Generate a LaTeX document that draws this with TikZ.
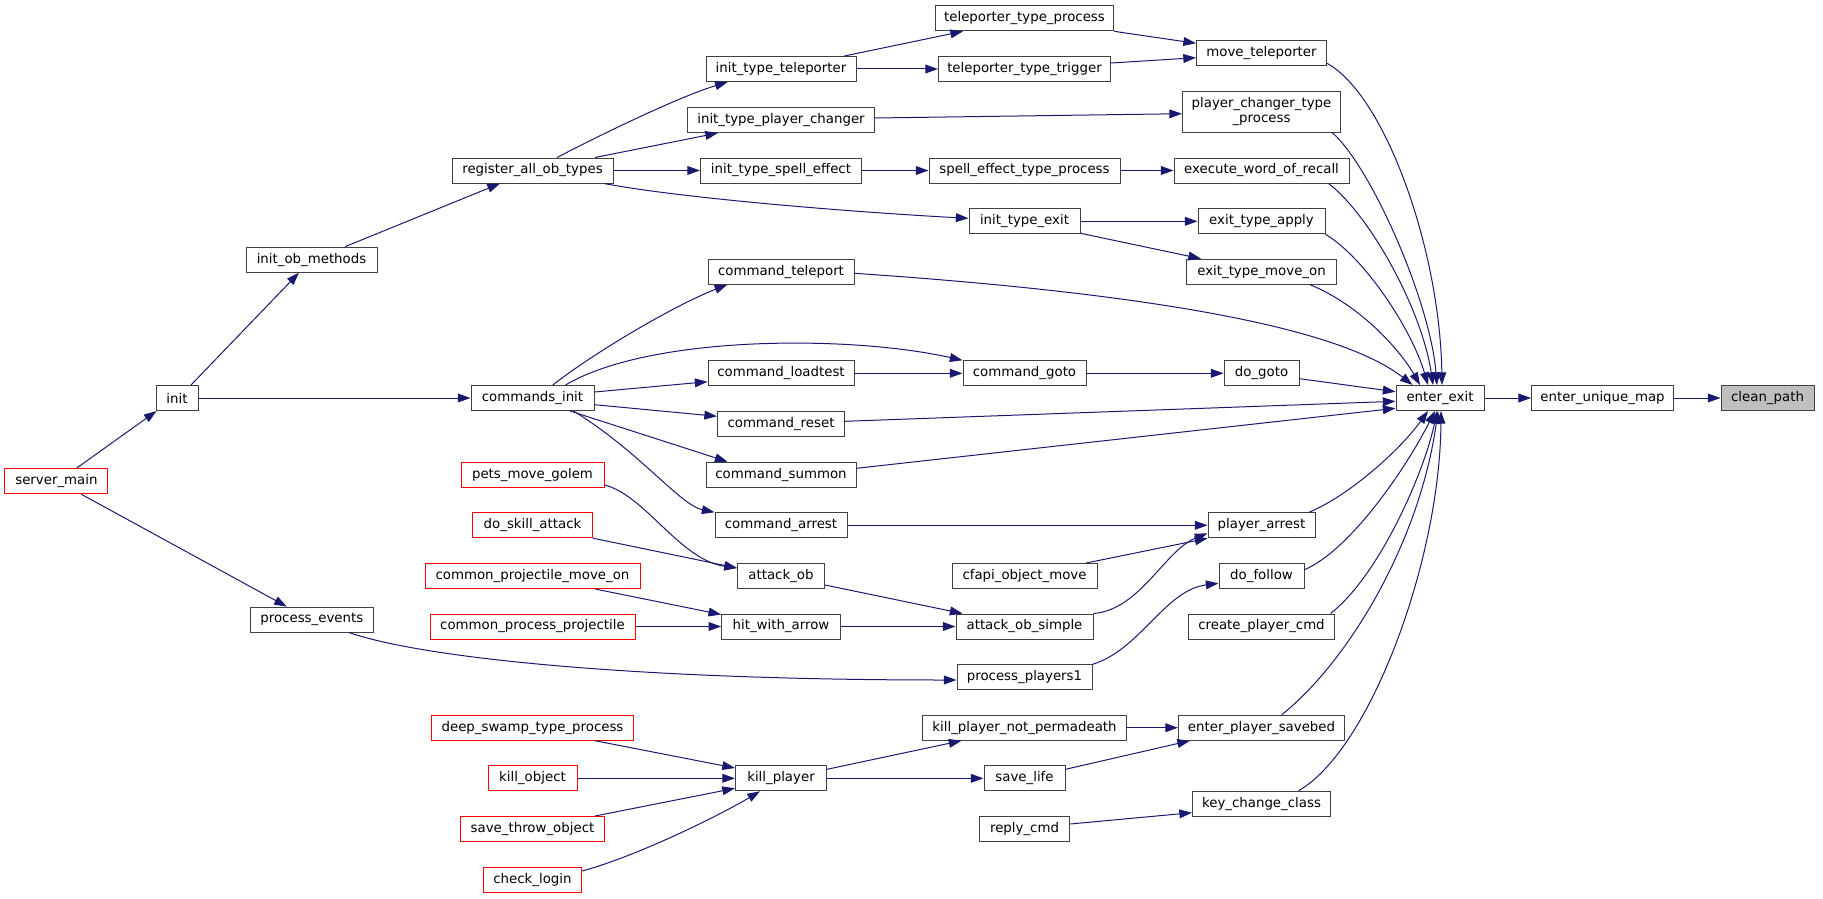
\documentclass[tikz,border=0pt]{standalone}
\usepackage{fontspec}
\setmainfont{DejaVu Sans}
\usetikzlibrary{arrows.meta,calc}
\definecolor{edgeblue}{HTML}{191970}
\definecolor{boxgray}{HTML}{404040}
\definecolor{hilite}{HTML}{BFBFBF}
\begin{document}
\begin{tikzpicture}[x=0.75pt,y=-0.75pt,
  fn/.style={draw=boxgray, line width=0.75pt, fill=white, rectangle, inner xsep=0pt, inner ysep=0pt, minimum height=18.75pt, font=\fontsize{10}{11.25}\selectfont},
  rn/.style={fn, draw=red},
  cedge/.style={draw=edgeblue, line width=0.75pt, -{Triangle[length=9.5pt,width=6.6pt]}}]
\useasboundingbox (0,0) rectangle (1823,899);

% column 0-2
\node[rn, minimum width=77.25pt] (sm) at (56.4,481.3) {server\_main};
\node[fn, minimum width=31.5pt] (init) at (177,398) {init};
\node[fn, minimum width=98.25pt] (iom) at (311.5,259.7) {init\_ob\_methods};
\node[fn, minimum width=92.25pt] (pe) at (311.8,619.6) {process\_events};
% column 3
\node[fn, minimum width=120.75pt] (rat) at (532.5,170.5) {register\_all\_ob\_types};
\node[fn, minimum width=92.25pt] (ci) at (532.5,398) {commands\_init};
\node[rn, minimum width=107.25pt] (pmg) at (532.5,474.7) {pets\_move\_golem};
\node[rn, minimum width=90pt] (dsa) at (532.5,525.2) {do\_skill\_attack};
\node[rn, minimum width=161.25pt] (cpmo) at (532.5,576) {common\_projectile\_move\_on};
\node[rn, minimum width=153.75pt] (cpp) at (532.5,626.5) {common\_process\_projectile};
\node[rn, minimum width=151.5pt] (dstp) at (532.5,727.7) {deep\_swamp\_type\_process};
\node[rn, minimum width=66.75pt] (ko) at (532.5,778.3) {kill\_object};
\node[rn, minimum width=108pt] (sto) at (532.5,829) {save\_throw\_object};
\node[rn, minimum width=73.9pt] (cl) at (532.5,879.7) {check\_login};
% column 4
\node[fn, minimum width=112.5pt] (itt) at (781,69) {init\_type\_teleporter};
\node[fn, minimum width=140.25pt] (itpc) at (781,120) {init\_type\_player\_changer};
\node[fn, minimum width=120.75pt] (itse) at (781,170.5) {init\_type\_spell\_effect};
\node[fn, minimum width=109.5pt] (ctel) at (781,271.7) {command\_teleport};
\node[fn, minimum width=109.5pt] (clt) at (781,373.3) {command\_loadtest};
\node[fn, minimum width=95.25pt] (cres) at (781,423.7) {command\_reset};
\node[fn, minimum width=112.5pt] (csum) at (781,474.7) {command\_summon};
\node[fn, minimum width=99pt] (carr) at (781,525.3) {command\_arrest};
\node[fn, minimum width=65.25pt] (aob) at (781,576) {attack\_ob};
\node[fn, minimum width=89pt] (hwa) at (781,626.5) {hit\_with\_arrow};
\node[fn, minimum width=68.25pt] (kp) at (781,778.3) {kill\_player};
% column 5
\node[fn, minimum width=133.5pt] (ttp) at (1024.5,18.3) {teleporter\_type\_process};
\node[fn, minimum width=129pt] (ttt) at (1024.5,69) {teleporter\_type\_trigger};
\node[fn, minimum width=143.25pt] (setp) at (1024.5,170.5) {spell\_effect\_type\_process};
\node[fn, minimum width=83.25pt] (ite) at (1024.5,221.3) {init\_type\_exit};
\node[fn, minimum width=92.25pt] (cgoto) at (1024.5,373.3) {command\_goto};
\node[fn, minimum width=108.75pt] (cfapi) at (1024.5,576) {cfapi\_object\_move};
\node[fn, minimum width=102.75pt] (aos) at (1024.5,626.5) {attack\_ob\_simple};
\node[fn, minimum width=101.25pt] (pp1) at (1024.5,677.3) {process\_players1};
\node[fn, minimum width=153pt] (kpnp) at (1024.5,727.7) {kill\_player\_not\_permadeath};
\node[fn, minimum width=60.75pt] (sl) at (1024.5,778.3) {save\_life};
\node[fn, minimum width=67.9pt] (rc) at (1024.5,829.3) {reply\_cmd};
% column 6
\node[fn, minimum width=97.5pt] (mt) at (1261.5,53.3) {move\_teleporter};
\node[fn, minimum width=118.5pt, minimum height=30pt, align=center] (pctp) at (1261.5,112) {player\_changer\_type\\\_process};
\node[fn, minimum width=131.25pt] (ewr) at (1261.5,170.5) {execute\_word\_of\_recall};
\node[fn, minimum width=95.25pt] (eta) at (1261.5,221.3) {exit\_type\_apply};
\node[fn, minimum width=112.5pt] (etmo) at (1261.5,271.7) {exit\_type\_move\_on};
\node[fn, minimum width=56.25pt] (dg) at (1261.5,373.3) {do\_goto};
\node[fn, minimum width=80.25pt] (pa) at (1261.5,525.3) {player\_arrest};
\node[fn, minimum width=63.75pt] (df) at (1261.5,576) {do\_follow};
\node[fn, minimum width=109.5pt] (cpc) at (1261.5,626.5) {create\_player\_cmd};
\node[fn, minimum width=124.5pt] (epsb) at (1261.5,727.7) {enter\_player\_savebed};
\node[fn, minimum width=103.5pt] (kcc) at (1261.5,803.7) {key\_change\_class};
% right
\node[fn, minimum width=66pt] (ee) at (1440,398) {enter\_exit};
\node[fn, minimum width=106.5pt] (eum) at (1602.5,398) {enter\_unique\_map};
\node[fn, minimum width=69.75pt, fill=hilite] (cp) at (1767.5,398) {clean\_path};

% edges
\draw[cedge] ($(sm.north)+(20,0)$) -- ($(init.south west)+(1,0)$);
\draw[cedge] ($(sm.south)+(25,0)$) -- ($(pe.north)+(-25,0)$);
\draw[cedge] ($(init.north)+(14,0)$) -- ($(iom.south)+(-12.5,0)$);
\draw[cedge] (init.east) -- (ci.west);
\draw[cedge] ($(iom.north)+(33.5,0)$) -- ($(rat.south)+(-32.5,0)$);
\draw[cedge] ($(rat.north)+(24.5,0)$) .. controls (600,135) and (679,96.7) .. ($(itt.south)+(-53.3,0)$);
\draw[cedge] ($(rat.north)+(62.5,0)$) -- ($(itpc.south)+(-63,0)$);
\draw[cedge] (rat.east) -- (itse.west);
\draw[cedge] ($(rat.south)+(71.5,0)$) .. controls (680,198) and (850,212) .. ($(ite.west)+(0,-3)$);
\draw[cedge] ($(itt.north)+(63.4,0)$) -- ($(ttp.south)+(-61.5,0)$);
\draw[cedge] (itt.east) -- (ttt.west);
\draw[cedge] (ttp.south east) -- ($(mt.west)+(0,-10)$);
\draw[cedge] ($(ttt.east)+(0,-6)$) -- ($(mt.west)+(0,4.4)$);
\draw[cedge] ($(itpc.east)+(0,-2)$) -- ($(pctp.west)+(0,1.7)$);
\draw[cedge] (itse.east) -- (setp.west);
\draw[cedge] (setp.east) -- (ewr.west);
\draw[cedge] (ite.east) -- (eta.west);
\draw[cedge] ($(ite.south east)+(0,-1)$) -- ($(etmo.north west)+(15,0)$);
\draw[cedge] ($(mt.east)+(0,10)$) .. controls (1385,95) and (1440,250) .. ($(ee.north)+(2,0)$);
\draw[cedge] ($(pctp.south east)+(-9,0)$) .. controls (1370,165) and (1430,300) .. ($(ee.north)+(-3,0)$);
\draw[cedge] ($(ewr.south east)+(-21,0)$) .. controls (1370,215) and (1422,310) .. ($(ee.north)+(-7,0)$);
\draw[cedge] (eta.south east) .. controls (1365,258) and (1412,330) .. ($(ee.north)+(-12,0)$);
\draw[cedge] ($(etmo.south)+(48.5,0)$) .. controls (1360,305) and (1400,350) .. ($(ee.north)+(-20,0)$);
\draw[cedge] ($(ctel.east)+(0,1.6)$) .. controls (1100,290) and (1330,320) .. ($(ee.north west)+(17,0)$);
\draw[cedge] ($(ci.north)+(20.3,0)$) .. controls (595,352) and (675,305) .. ($(ctel.south)+(-53.7,0)$);
\draw[cedge] ($(ci.north)+(33,0)$) .. controls (650,335) and (850,335) .. (cgoto.north west);
\draw[cedge] ($(ci.east)+(0,-6)$) -- ($(clt.west)+(0,8.4)$);
\draw[cedge] ($(ci.east)+(0,6.7)$) -- ($(cres.west)+(0,-7.4)$);
\draw[cedge] ($(ci.south)+(37.5,0)$) -- ($(csum.north west)+(22,0)$);
\draw[cedge] ($(ci.south)+(41,0)$) .. controls (640,452) and (680,505) .. (carr.north west);
\draw[cedge] (clt.east) -- (cgoto.west);
\draw[cedge] (cgoto.east) -- (dg.west);
\draw[cedge] ($(dg.east)+(0,5.4)$) -- ($(ee.west)+(0,-6.3)$);
\draw[cedge] ($(cres.east)+(0,-2.4)$) -- ($(ee.west)+(0,3.3)$);
\draw[cedge] ($(csum.east)+(0,-6.4)$) -- ($(ee.west)+(0,10.3)$);
\draw[cedge] (carr.east) -- (pa.west);
\draw[cedge] ($(pa.north)+(47.5,0)$) .. controls (1350,495) and (1400,450) .. ($(ee.south)+(-12,0)$);
\draw[cedge] ($(cfapi.north)+(61.7,0)$) -- (pa.south west);
\draw[cedge] (aos.north east) .. controls (1140,610) and (1165,550) .. ($(pa.west)+(0,8)$);
\draw[cedge] ($(pmg.east)+(0,10.3)$) .. controls (645,495) and (680,560) .. ($(aob.west)+(0,-8)$);
\draw[cedge] (dsa.south east) -- ($(aob.west)+(0,-8)$);
\draw[cedge] ($(cpmo.south)+(62.5,0)$) -- ($(hwa.north west)+(0,1)$);
\draw[cedge] (cpp.east) -- (hwa.west);
\draw[cedge] ($(aob.east)+(0,9)$) -- ($(aos.north west)+(7,0)$);
\draw[cedge] (hwa.east) -- (aos.west);
\draw[cedge] ($(pe.south)+(37.2,0)$) .. controls (430,660) and (650,680) .. ($(pp1.west)+(0,2.7)$);
\draw[cedge] (pp1.north east) .. controls (1140,650) and (1165,590) .. ($(df.west)+(0,7.3)$);
\draw[cedge] ($(df.east)+(0,-6.3)$) .. controls (1350,550) and (1405,470) .. ($(ee.south)+(-5,0)$);
\draw[cedge] ($(cpc.north east)+(-4.5,0)$) .. controls (1380,575) and (1425,470) .. ($(ee.south)+(-3,0)$);
\draw[cedge] ($(epsb.north)+(20.3,0)$) .. controls (1350,660) and (1420,540) .. ($(ee.south)+(-2,0)$);
\draw[cedge] ($(kcc.north)+(37,0)$) .. controls (1370,750) and (1440,560) .. ($(ee.south)+(1,0)$);
\draw[cedge] (kpnp.east) -- (epsb.west);
\draw[cedge] ($(sl.east)+(0,-9)$) -- ($(epsb.south west)+(12,0)$);
\draw[cedge] ($(kp.east)+(0,-9)$) -- ($(kpnp.south west)+(39.5,0)$);
\draw[cedge] (kp.east) -- (sl.west);
\draw[cedge] ($(dstp.south)+(62.5,0)$) -- ($(kp.west)+(0,-10.3)$);
\draw[cedge] (ko.east) -- (kp.west);
\draw[cedge] ($(sto.north)+(62.5,0)$) -- ($(kp.west)+(0,10)$);
\draw[cedge] ($(cl.east)+(0,-8.7)$) .. controls (640,855) and (720,815) .. ($(kp.south)+(-21,0)$);
\draw[cedge] ($(rc.east)+(0,-5.3)$) -- ($(kcc.west)+(0,9)$);
\draw[cedge] (ee.east) -- (eum.west);
\draw[cedge] (eum.east) -- (cp.west);
\end{tikzpicture}
\end{document}
